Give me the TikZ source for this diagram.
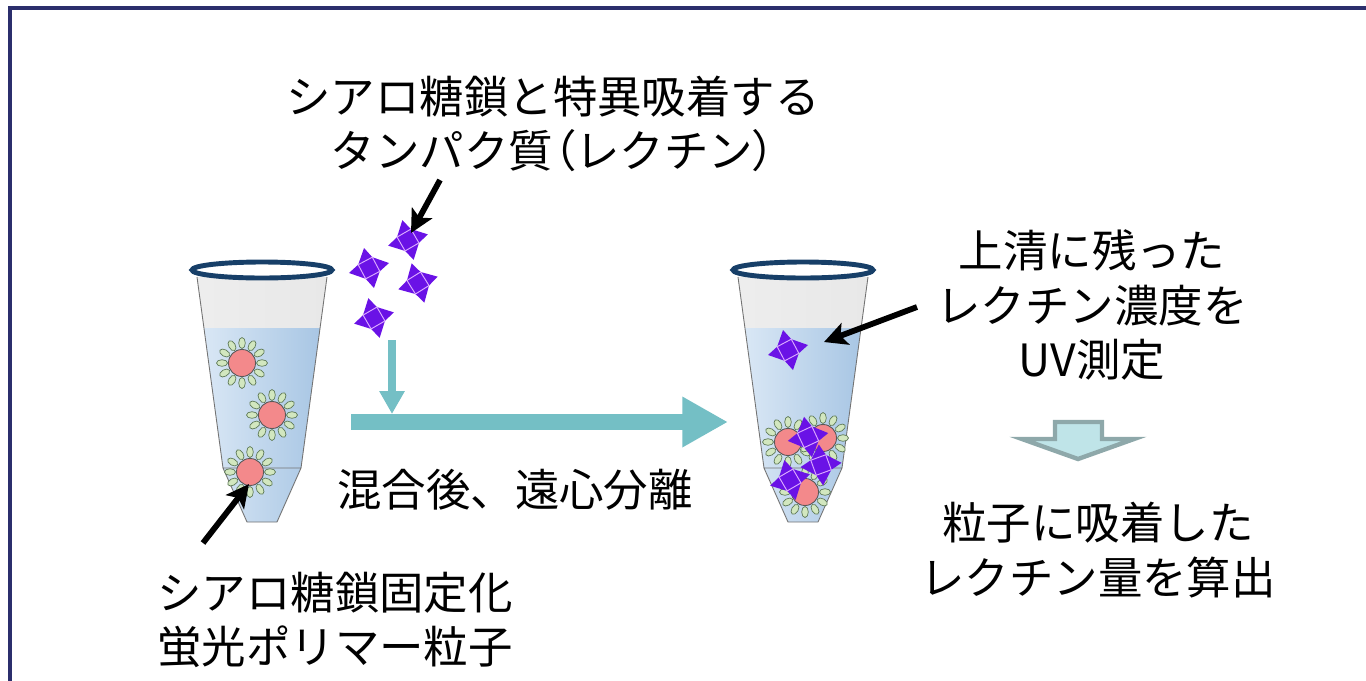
\documentclass[tikz,border=0pt]{standalone}
\usepackage{fontspec}
\setmainfont{Noto Sans CJK JP}
\newfontfamily\jpalt[RawFeature=+palt]{Noto Sans CJK JP}
\usepackage{tikz}
\usetikzlibrary{arrows.meta,calc,shadings}

\definecolor{framenavy}{HTML}{2B2E6C}
\definecolor{rimblue}{HTML}{173F68}
\definecolor{liqlight}{HTML}{D9E7F5}
\definecolor{liqdark}{HTML}{A8C6E4}
\definecolor{beadpink}{HTML}{F3898B}
\definecolor{petalgreen}{HTML}{D2E7BF}
\definecolor{petalline}{HTML}{5F7A58}
\definecolor{lectinviolet}{HTML}{6A12E6}
\definecolor{lectinline}{HTML}{D9A8FF}
\definecolor{flowteal}{HTML}{74BFC5}
\definecolor{blockfill}{HTML}{BFE4E8}
\definecolor{blockline}{HTML}{8EA8AA}

% Zentrifugenroehrchen, #1 = x der Achse
\newcommand\tube[1]{%
  \shade[left color=black!7,middle color=white,right color=black!9]
    (#1-65,277) -- (#1+65,277) -- (#1+58,328) -- (#1-58,328) -- cycle;
  \shade[left color=liqlight,right color=liqdark]
    (#1-58,328) -- (#1+58,328) -- (#1+39,468) -- (#1+15,522)
    -- (#1-15,522) -- (#1-39,468) -- cycle;
  \draw[black!55,line width=.5pt,line join=round]
    (#1-65,277) -- (#1-39,468) -- (#1-15,522) -- (#1+15,522) -- (#1+39,468) -- (#1+65,277)
    (#1-39,468) -- (#1+39,468);
  \filldraw[fill=white,draw=rimblue,line width=2.8pt] (#1,270) ellipse [x radius=70,y radius=8];
}
% Partikel mit Zuckerketten
\newcommand\bead[2]{%
  \foreach\a in {0,30,...,330}
    \filldraw[fill=petalgreen,draw=petalline,line width=.4pt,shift={(#1,#2)},rotate=\a]
      (20,0) ellipse [x radius=5.5,y radius=3.3];
  \filldraw[fill=beadpink,draw=black!65,line width=.5pt] (#1,#2) circle [radius=13.5];
}
% Lektin, #3 = Drehwinkel
\newcommand\lectin[3]{%
  \begin{scope}[shift={(#1,#2)},rotate=#3]
    \foreach\r in {0,90,180,270}
      \fill[lectinviolet,rotate=\r] (-8,-8) -- (8,-8) -- (5,-20) -- cycle;
    \fill[lectinviolet] (-8,-8) rectangle (8,8);
    \draw[lectinline,line width=.55pt] (-8,-8) rectangle (8,8);
  \end{scope}
}

\begin{document}
\begin{tikzpicture}[x=0.02cm,y=-0.02cm,
    lbl/.style={font=\fontsize{25.3pt}{31pt}\selectfont,align=center,inner sep=0pt},
    pointer/.style={line width=3.3pt,-{Stealth[length=13pt,width=13pt,inset=3pt]}},
    flow/.style={draw=flowteal}]
  \useasboundingbox (0,0) rectangle (1366,680);
  % Rahmen
  \draw[framenavy,line width=2pt] (10,690) -- (10,8) -- (1376,8);
  % Roehrchen
  \tube{262}
  \tube{803}
  \bead{242}{363}
  \bead{272}{415}
  \bead{250}{472}
  \bead{788}{442}
  \bead{823}{438}
  \bead{805}{492}
  \lectin{808}{437}{25}
  \lectin{821}{465}{20}
  \lectin{790}{480}{30}
  \lectin{788}{350}{28}
  % freie Lektine
  \lectin{408}{240}{30}
  \lectin{369}{268}{28}
  \lectin{418}{283}{32}
  \lectin{374}{318}{30}
  % Pfeile
  \coordinate (dropstart) at (392,340);
  \coordinate (dropend) at (392,414);
  \coordinate (mixstart) at (351,422);
  \coordinate (mixend) at (728,422);
  \draw[flow,line width=5pt,-{Triangle[length=13pt,width=13.6pt]}] (dropstart) -- (dropend);
  \draw[flow,line width=9pt,-{Triangle[length=26pt,width=27pt]}] (mixstart) -- (mixend);
  \filldraw[fill=blockfill,draw=blockline,line width=2.5pt]
    (1055,422) -- (1102,422) -- (1102,439) -- (1134,439) -- (1078,459)
    -- (1022,439) -- (1055,439) -- cycle;
  % Beschriftung
  \node[lbl] (lectinlbl) at (553,124) {シアロ糖鎖と特異吸着する\\タンパク質{\jpalt （}レクチン{\jpalt ）}};
  \node[lbl] (mixlbl) at (515,490) {混合後、遠心分離};
  \node[lbl] (superlbl) at (1092,305) {上清に残った\\レクチン濃度を\\UV測定};
  \node[lbl] (resultlbl) at (1098,550) {粒子に吸着した\\レクチン量を算出};
  \node[lbl] (beadlbl) at (335,620) {シアロ糖鎖固定化\\蛍光ポリマー粒子};
  \coordinate (lectintail) at (440,180);
  \coordinate (lectintip) at (411,233);
  \coordinate (beadtail) at (203,543);
  \coordinate (beadtip) at (249,484);
  \coordinate (supertail) at (917,307);
  \coordinate (supertip) at (824,342);
  \draw[pointer] (lectintail) -- (lectintip);
  \draw[pointer] (beadtail) -- (beadtip);
  \draw[pointer] (supertail) -- (supertip);
\end{tikzpicture}
\end{document}
